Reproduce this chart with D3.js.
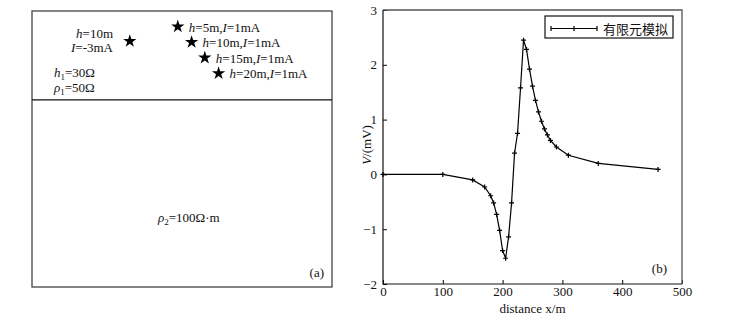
<!DOCTYPE html>
<html>
<head>
<meta charset="utf-8">
<script src="https://cdn.jsdelivr.net/npm/d3@7"></script>
<style>
  body { margin: 0; background: #fff; }
  svg text { font-family: "Liberation Serif", "DejaVu Serif", serif; fill: #111; }
</style>
</head>
<body>
<div id="chart"></div>
<script>
// distance (m) and potential (mV)
const distance = [0, 100, 150, 170, 180, 185, 190, 195, 200, 205, 210, 215, 220, 225, 230, 235,
  240, 245, 250, 255, 260, 265, 270, 275, 280, 290, 310, 360, 460];
const potential = [0, 0, -0.1, -0.23, -0.39, -0.52, -0.73, -1.02, -1.39, -1.53, -1.14, -0.52, 0.39, 0.75, 1.58, 2.45,
  2.28, 1.92, 1.61, 1.35, 1.14, 0.97, 0.83, 0.72, 0.62, 0.5, 0.35, 0.2, 0.09];
const xTicks = [0, 100, 200, 300, 400, 500];
const yTicks = [-2, -1, 0, 1, 2, 3];
const legendLabel = "有限元模拟";

// panel (a) sources: lateral position (schematic units) and depth
const srcPos = [243, 266, 288, 311];
const srcDepth = [5, 10, 15, 20];
const srcCurrent = [1, 1, 1, 1];
const negPos = 163, negDepth = 10, negCurrent = -3;
const layerDepth = 28.5;

const svg = d3.select("#chart").append("svg")
  .attr("width", 729)
  .attr("height", 322);

// ---------- panel (a) ----------
const a = { left: 32, right: 332, top: 11, bottom: 287 };
const ax = d3.scaleLinear().domain([0, 500]).range([a.left, a.right]);
const ay = d3.scaleLinear().domain([0, 88.5]).range([a.top, a.bottom]);

const ga = svg.append("g");
ga.append("rect")
  .attr("x", a.left).attr("y", a.top)
  .attr("width", a.right - a.left).attr("height", a.bottom - a.top)
  .attr("fill", "none").attr("stroke", "#444").attr("stroke-width", 1.3);
ga.append("line")
  .attr("x1", a.left).attr("x2", a.right)
  .attr("y1", ay(layerDepth)).attr("y2", ay(layerDepth))
  .attr("stroke", "#111").attr("stroke-width", 1.3);

const star = d3.symbol().type(d3.symbolStar).size(55);

srcPos.forEach(function(p, i) {
  ga.append("path")
    .attr("d", star)
    .attr("transform", `translate(${ax(p)},${ay(srcDepth[i])})`)
    .attr("fill", "#000");
  const t = ga.append("text")
    .attr("x", ax(p) + 11)
    .attr("y", ay(srcDepth[i]) + 5)
    .style("font-size", "13px");
  t.append("tspan").style("font-style", "italic").text("h");
  t.append("tspan").text(`=${srcDepth[i]}m,`);
  t.append("tspan").style("font-style", "italic").text("I");
  t.append("tspan").text(`=${srcCurrent[i]}mA`);
});

ga.append("path")
  .attr("d", star)
  .attr("transform", `translate(${ax(negPos)},${ay(negDepth) - 1})`)
  .attr("fill", "#000");
const n1 = ga.append("text").attr("x", 113).attr("y", 38)
  .attr("text-anchor", "end").style("font-size", "13px");
n1.append("tspan").style("font-style", "italic").text("h");
n1.append("tspan").text(`=${negDepth}m`);
const n2 = ga.append("text").attr("x", 113).attr("y", 52)
  .attr("text-anchor", "end").style("font-size", "13px");
n2.append("tspan").style("font-style", "italic").text("I");
n2.append("tspan").text(`=${negCurrent}mA`);

function subLabel(x, y, sym, sub, rest) {
  const t = ga.append("text").attr("x", x).attr("y", y).style("font-size", "13px");
  t.append("tspan").style("font-style", "italic").text(sym);
  t.append("tspan").attr("dy", 3).style("font-size", "9px").text(sub);
  t.append("tspan").attr("dy", -3).text(rest);
}
subLabel(54, 77, "h", "1", "=30Ω");
subLabel(54, 92, "ρ", "1", "=50Ω");
subLabel(158, 222, "ρ", "2", "=100Ω·m");

ga.append("text").attr("x", 324).attr("y", 277)
  .attr("text-anchor", "end").style("font-size", "13px").text("(a)");

// ---------- panel (b) ----------
const b = { left: 383, right: 682, top: 10, bottom: 284 };
const x = d3.scaleLinear().domain([0, 500]).range([b.left, b.right]);
const y = d3.scaleLinear().domain([-2, 3]).range([b.bottom, b.top]);

const gb = svg.append("g");

gb.append("g")
  .attr("transform", `translate(0,${b.bottom})`)
  .call(d3.axisBottom(x).tickValues(xTicks).tickFormat(d3.format("d")).tickSize(-4).tickPadding(3))
  .call(g => g.select(".domain").remove())
  .selectAll("text").style("font-size", "13px").attr("fill", "#111");

gb.append("g")
  .attr("transform", `translate(${b.left},0)`)
  .call(d3.axisLeft(y).tickValues(yTicks).tickFormat(d3.format("d")).tickSize(-4).tickPadding(6))
  .call(g => g.select(".domain").remove())
  .selectAll("text").style("font-size", "13px").attr("fill", "#111");

// frame
gb.append("path")
  .attr("d", `M${b.left},${b.top}H${b.right}V${b.bottom}`)
  .attr("fill", "none").attr("stroke", "#555").attr("stroke-width", 1.3);
gb.append("path")
  .attr("d", `M${b.left},${b.top}V${b.bottom}H${b.right}`)
  .attr("fill", "none").attr("stroke", "#111").attr("stroke-width", 1.2);

const pts = distance.map((d, i) => [d, potential[i]]);
const line = d3.line().x(d => x(d[0])).y(d => y(d[1]));

gb.append("path")
  .datum(pts)
  .attr("d", line)
  .attr("fill", "none").attr("stroke", "#000").attr("stroke-width", 1.2);

gb.selectAll("path.mark")
  .data(pts)
  .enter().append("path")
  .attr("class", "mark")
  .attr("d", d => `M${x(d[0]) - 2.5},${y(d[1])}h5M${x(d[0])},${y(d[1]) - 2.5}v5`)
  .attr("stroke", "#000").attr("stroke-width", 1.2);

gb.append("text")
  .attr("x", (b.left + b.right) / 2)
  .attr("y", 313)
  .attr("text-anchor", "middle")
  .style("font-size", "13px")
  .text("distance x/m");

const yl = gb.append("text")
  .attr("transform", `translate(371,${(y(1) + y(0)) / 2 - 2}) rotate(-90)`)
  .attr("text-anchor", "middle")
  .style("font-size", "13px");
yl.append("tspan").style("font-style", "italic").text("V");
yl.append("tspan").text("/(mV)");

gb.append("text").attr("x", 667).attr("y", 273)
  .attr("text-anchor", "end").style("font-size", "13px").text("(b)");

// legend
const lg = gb.append("g");
lg.append("rect")
  .attr("x", 545).attr("y", 16).attr("width", 128).attr("height", 22)
  .attr("fill", "#fff").attr("stroke", "#111").attr("stroke-width", 1.2);
lg.append("line")
  .attr("x1", 551).attr("x2", 597).attr("y1", 28.5).attr("y2", 28.5)
  .attr("stroke", "#000").attr("stroke-width", 1.2);
[551, 574, 597].forEach(function(px) {
  lg.append("line")
    .attr("x1", px).attr("x2", px).attr("y1", 26).attr("y2", 31)
    .attr("stroke", "#000").attr("stroke-width", 1.2);
});
lg.append("text")
  .attr("x", 603).attr("y", 33.5)
  .style("font-family", "'Noto Sans CJK SC', sans-serif")
  .style("font-size", "13px")
  .text(legendLabel);
</script>
</body>
</html>
